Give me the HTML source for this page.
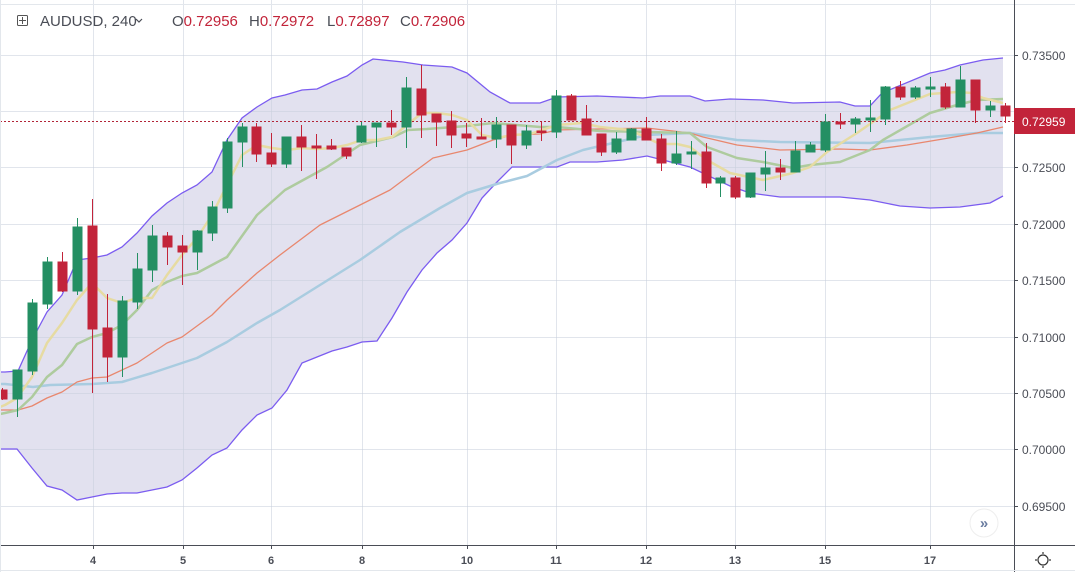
<!DOCTYPE html>
<html><head><meta charset="utf-8"><style>
html,body{margin:0;padding:0;background:#fff;}
body{width:1075px;height:572px;overflow:hidden;font-family:"Liberation Sans",sans-serif;}
svg{display:block}
</style></head><body>
<svg width="1075" height="572" viewBox="0 0 1075 572" xmlns="http://www.w3.org/2000/svg" font-family="Liberation Sans, sans-serif">
<rect x="0" y="0" width="1075" height="572" fill="#fff"/>
<polygon fill="#e2e1ef" points="5,372 18,371 32,340 47,312 62,295 77,260 92,258 107,255 122,247 137,233 152,216 167,203 182,193 197,185 212,172 227,140 242,118 257,107 272,98 285,95 302,90 317,89 332,82 347,76 362,65 373,59 403,62 423,65 452,67 467,73 490,92 510,103 540,103 557,97 597,96 643,98 660,96 690,96 705,101 730,99 763,100 793,103 840,102 855,106 870,106 882,93 930,73 945,70 960,65 983,60 1003,58 1003,196 990,203 960,207 930,208 900,206 870,200 840,197 810,197 780,197 750,193 730,186 690,167 663,160 647,156 623,160 597,162 570,162 557,167 530,167 527,167 512,167 497,182 482,198 467,223 452,240 437,253 422,270 407,292 392,318 377,341 362,342 347,347 332,351 317,357 302,363 287,390 272,408 257,415 242,430 227,448 212,455 197,468 182,480 167,487 152,490 137,493 122,493 107,494 92,497 77,500 62,490 47,486 32,468 17,449 5,449 0,449 0,372"/>
<g stroke="#c9d0dc" stroke-opacity="0.55" stroke-width="1">
<line x1="0" y1="55.5" x2="1014" y2="55.5"/><line x1="0" y1="111.5" x2="1014" y2="111.5"/><line x1="0" y1="167.5" x2="1014" y2="167.5"/><line x1="0" y1="224.5" x2="1014" y2="224.5"/><line x1="0" y1="280.5" x2="1014" y2="280.5"/><line x1="0" y1="337.5" x2="1014" y2="337.5"/><line x1="0" y1="393.5" x2="1014" y2="393.5"/><line x1="0" y1="449.5" x2="1014" y2="449.5"/><line x1="0" y1="506.5" x2="1014" y2="506.5"/>
<line x1="93.5" y1="0" x2="93.5" y2="545"/><line x1="183.5" y1="0" x2="183.5" y2="545"/><line x1="271.5" y1="0" x2="271.5" y2="545"/><line x1="362.5" y1="0" x2="362.5" y2="545"/><line x1="467.5" y1="0" x2="467.5" y2="545"/><line x1="556.5" y1="0" x2="556.5" y2="545"/><line x1="646.5" y1="0" x2="646.5" y2="545"/><line x1="735.5" y1="0" x2="735.5" y2="545"/><line x1="825.5" y1="0" x2="825.5" y2="545"/><line x1="930.5" y1="0" x2="930.5" y2="545"/>
</g>
<g fill="none" stroke-width="1.3" stroke="#7b5cf0">
<polyline points="0,372 5,372 18,371 32,340 47,312 62,295 77,260 92,258 107,255 122,247 137,233 152,216 167,203 182,193 197,185 212,172 227,140 242,118 257,107 272,98 285,95 302,90 317,89 332,82 347,76 362,65 373,59 403,62 423,65 452,67 467,73 490,92 510,103 540,103 557,97 597,96 643,98 660,96 690,96 705,101 730,99 763,100 793,103 840,102 855,106 870,106 882,93 930,73 945,70 960,65 983,60 1003,58"/>
<polyline points="0,449 17,449 32,468 47,486 62,490 77,500 92,497 107,494 122,493 137,493 152,490 167,487 182,480 197,468 212,455 227,448 242,430 257,415 272,408 287,390 302,363 317,357 332,351 347,347 362,342 377,341 392,318 407,292 422,270 437,253 452,240 467,223 482,198 497,182 512,167 557,167 570,162 597,162 623,160 647,156 663,160 690,167 730,186 750,193 780,197 840,197 870,200 900,206 930,208 960,207 990,203 1003,196"/>
</g>
<g fill="none" stroke-linejoin="round">
<polyline stroke="#a9cce0" stroke-width="2.5" points="0,384 5,384 33,387 50,385 92,384 122,382 152,373 182,363 197,358 227,342 257,323 280,310 320,285 360,260 400,232 440,208 467,193 500,183 527,176 557,160 583,150 613,143 647,135 690,133 737,140 780,142 870,143 930,137 977,133 1003,133"/>
<polyline stroke="#e8876e" stroke-width="1.3" points="0,410 18,410 32,406 47,398 62,392 77,382 92,378 107,377 137,363 167,343 182,337 212,315 227,300 257,273 280,255 320,225 360,205 390,190 410,175 433,158 467,150 493,140 513,135 540,134 557,130 597,129 647,128 690,133 703,137 737,145 780,150 840,149 870,150 907,145 943,139 977,133 1003,127"/>
<polyline stroke="#aecb9e" stroke-width="2.5" points="0,414 5,413 18,410 32,397 47,377 62,365 77,344 92,337 107,333 122,325 137,310 152,290 167,282 182,276 197,273 212,265 227,257 257,215 285,190 327,167 360,145 393,137 408,130 427,129 467,126 493,123 540,127 557,127 600,131 647,132 690,133 707,147 737,158 763,162 793,168 810,165 840,162 870,150 883,140 930,113 957,105 977,100 1003,99"/>
<polyline stroke="#e6dba2" stroke-width="2.5" points="0,407 5,405 17,398 32,377 47,343 62,323 77,300 92,283 107,298 122,303 137,298 152,298 167,275 182,255 197,238 212,215 227,185 242,155 257,145 272,148 287,150 302,148 317,149 332,148 347,145 362,140 377,140 392,137 407,125 422,113 437,113 452,115 467,120 482,135 497,138 512,135 530,134 557,125 582,123 600,127 630,130 660,144 677,144 690,147 707,160 730,173 763,180 793,173 810,167 827,152 857,133 890,110 930,94 957,92 972,93 983,98 1003,103"/>
</g>
<line x1="0" y1="121.5" x2="1014" y2="121.5" stroke="#b22437" stroke-width="1" stroke-dasharray="2,2"/>
<g>
<g stroke="#c2243a" fill="#c2243a">
<line x1="2.5" y1="388" x2="2.5" y2="400"/><rect x="0" y="390" width="7" height="9"/>
<line x1="62.5" y1="252" x2="62.5" y2="292"/><rect x="58" y="262" width="9" height="29"/>
<line x1="92.5" y1="199" x2="92.5" y2="393"/><rect x="88" y="226" width="9" height="103"/>
<line x1="107.5" y1="294" x2="107.5" y2="382"/><rect x="103" y="328" width="9" height="29"/>
<line x1="167.5" y1="232" x2="167.5" y2="265"/><rect x="163" y="236" width="9" height="11"/>
<line x1="182.5" y1="235" x2="182.5" y2="285"/><rect x="178" y="246" width="9" height="6"/>
<line x1="256.5" y1="123" x2="256.5" y2="162"/><rect x="252" y="127" width="9" height="27"/>
<line x1="271.5" y1="133" x2="271.5" y2="167"/><rect x="267" y="153" width="9" height="11"/>
<line x1="301.5" y1="125" x2="301.5" y2="171"/><rect x="297" y="137" width="9" height="10"/>
<line x1="316.5" y1="134" x2="316.5" y2="179"/><rect x="312" y="146" width="9" height="2"/>
<line x1="331.5" y1="139" x2="331.5" y2="150"/><rect x="327" y="146" width="9" height="3"/>
<line x1="346.5" y1="148" x2="346.5" y2="159"/><rect x="342" y="148" width="9" height="8"/>
<line x1="391.5" y1="110" x2="391.5" y2="135"/><rect x="387" y="123" width="9" height="4"/>
<line x1="421.5" y1="65" x2="421.5" y2="138"/><rect x="417" y="89" width="9" height="26"/>
<line x1="436.5" y1="114" x2="436.5" y2="146"/><rect x="432" y="114" width="9" height="8"/>
<line x1="451.5" y1="111" x2="451.5" y2="148"/><rect x="447" y="121" width="9" height="14"/>
<line x1="466.5" y1="123" x2="466.5" y2="147"/><rect x="462" y="134" width="9" height="4"/>
<line x1="481.5" y1="118" x2="481.5" y2="139"/><rect x="477" y="137" width="9" height="2"/>
<line x1="511.5" y1="125" x2="511.5" y2="164"/><rect x="507" y="125" width="9" height="20"/>
<line x1="541.5" y1="122" x2="541.5" y2="141"/><rect x="537" y="131" width="9" height="1.5"/>
<line x1="571.5" y1="94" x2="571.5" y2="120"/><rect x="567" y="96" width="9" height="24"/>
<line x1="586.5" y1="105" x2="586.5" y2="135"/><rect x="582" y="119" width="9" height="16"/>
<line x1="601.5" y1="134" x2="601.5" y2="156"/><rect x="597" y="134" width="9" height="18"/>
<line x1="646.5" y1="117" x2="646.5" y2="140"/><rect x="642" y="129" width="9" height="11"/>
<line x1="661.5" y1="134" x2="661.5" y2="171"/><rect x="657" y="139" width="9" height="24"/>
<line x1="706.5" y1="143" x2="706.5" y2="188"/><rect x="702" y="152" width="9" height="31"/>
<line x1="735.5" y1="176" x2="735.5" y2="199"/><rect x="731" y="178" width="9" height="19"/>
<line x1="780.5" y1="159" x2="780.5" y2="180"/><rect x="776" y="168" width="9" height="4"/>
<line x1="840.5" y1="113" x2="840.5" y2="129"/><rect x="836" y="122" width="9" height="2"/>
<line x1="900.5" y1="81" x2="900.5" y2="100"/><rect x="896" y="87" width="9" height="10"/>
<line x1="945.5" y1="83" x2="945.5" y2="109"/><rect x="941" y="87" width="9" height="20"/>
<line x1="975.5" y1="80" x2="975.5" y2="123"/><rect x="971" y="80" width="9" height="30"/>
<line x1="1005.5" y1="103" x2="1005.5" y2="123"/><rect x="1001" y="106" width="9" height="10"/>
</g>
<g stroke="#248f63" fill="#248f63">
<line x1="17.5" y1="370" x2="17.5" y2="417"/><rect x="13" y="370" width="9" height="29"/>
<line x1="32.5" y1="299" x2="32.5" y2="375"/><rect x="28" y="303" width="9" height="68"/>
<line x1="47.5" y1="257" x2="47.5" y2="309"/><rect x="43" y="262" width="9" height="42"/>
<line x1="77.5" y1="218" x2="77.5" y2="295"/><rect x="73" y="227" width="9" height="64"/>
<line x1="122.5" y1="296" x2="122.5" y2="377"/><rect x="118" y="301" width="9" height="56"/>
<line x1="137.5" y1="253" x2="137.5" y2="309"/><rect x="133" y="269" width="9" height="33"/>
<line x1="152.5" y1="225" x2="152.5" y2="282"/><rect x="148" y="236" width="9" height="34"/>
<line x1="197.5" y1="230" x2="197.5" y2="270"/><rect x="193" y="231" width="9" height="21"/>
<line x1="212.5" y1="201" x2="212.5" y2="241"/><rect x="208" y="207" width="9" height="26"/>
<line x1="227.5" y1="138" x2="227.5" y2="213"/><rect x="223" y="142" width="9" height="66"/>
<line x1="242.5" y1="123" x2="242.5" y2="167"/><rect x="238" y="127" width="9" height="15"/>
<line x1="286.5" y1="137" x2="286.5" y2="168"/><rect x="282" y="137" width="9" height="27"/>
<line x1="361.5" y1="122" x2="361.5" y2="143"/><rect x="357" y="126" width="9" height="16"/>
<line x1="376.5" y1="123" x2="376.5" y2="147"/><rect x="372" y="123" width="9" height="4"/>
<line x1="406.5" y1="77" x2="406.5" y2="148"/><rect x="402" y="88" width="9" height="39"/>
<line x1="496.5" y1="117" x2="496.5" y2="148"/><rect x="492" y="125" width="9" height="14"/>
<line x1="526.5" y1="125" x2="526.5" y2="149"/><rect x="522" y="131" width="9" height="14"/>
<line x1="556.5" y1="90" x2="556.5" y2="138"/><rect x="552" y="96" width="9" height="36"/>
<line x1="616.5" y1="132" x2="616.5" y2="154"/><rect x="612" y="139" width="9" height="13"/>
<line x1="631.5" y1="128" x2="631.5" y2="140"/><rect x="627" y="129" width="9" height="11"/>
<line x1="676.5" y1="131" x2="676.5" y2="165"/><rect x="672" y="154" width="9" height="9"/>
<line x1="691.5" y1="141" x2="691.5" y2="169"/><rect x="687" y="152" width="9" height="2"/>
<line x1="720.5" y1="176" x2="720.5" y2="197"/><rect x="716" y="178" width="9" height="5"/>
<line x1="750.5" y1="173" x2="750.5" y2="198"/><rect x="746" y="173" width="9" height="24"/>
<line x1="765.5" y1="151" x2="765.5" y2="191"/><rect x="761" y="168" width="9" height="6"/>
<line x1="795.5" y1="141" x2="795.5" y2="172"/><rect x="791" y="151" width="9" height="21"/>
<line x1="810.5" y1="142" x2="810.5" y2="152"/><rect x="806" y="145" width="9" height="7"/>
<line x1="825.5" y1="114" x2="825.5" y2="152"/><rect x="821" y="122" width="9" height="28"/>
<line x1="855.5" y1="117" x2="855.5" y2="133"/><rect x="851" y="119" width="9" height="5"/>
<line x1="870.5" y1="100" x2="870.5" y2="132"/><rect x="866" y="118" width="9" height="2"/>
<line x1="885.5" y1="86" x2="885.5" y2="125"/><rect x="881" y="87" width="9" height="32"/>
<line x1="915.5" y1="86" x2="915.5" y2="99"/><rect x="911" y="88" width="9" height="9"/>
<line x1="930.5" y1="77" x2="930.5" y2="97"/><rect x="926" y="87" width="9" height="2"/>
<line x1="960.5" y1="66" x2="960.5" y2="107"/><rect x="956" y="80" width="9" height="27"/>
<line x1="990.5" y1="101" x2="990.5" y2="117"/><rect x="986" y="106" width="9" height="4"/>
</g>
</g>
<rect x="1014" y="0" width="61" height="572" fill="#fff"/>
<line x1="0" y1="4.5" x2="1075" y2="4.5" stroke="#e3e7ec"/>
<line x1="1014.5" y1="0" x2="1014.5" y2="572" stroke="#4a4d56"/>
<line x1="0" y1="545.5" x2="1075" y2="545.5" stroke="#4a4d56"/>
<line x1="0" y1="570.5" x2="1075" y2="570.5" stroke="#e3e7ec"/>
<line x1="0.5" y1="0" x2="0.5" y2="572" stroke="#e3e7ec"/>
<g stroke="#4a4d56">
<line x1="1014" y1="55.5" x2="1018" y2="55.5"/><line x1="1014" y1="167.5" x2="1018" y2="167.5"/><line x1="1014" y1="224.5" x2="1018" y2="224.5"/><line x1="1014" y1="280.5" x2="1018" y2="280.5"/><line x1="1014" y1="337.5" x2="1018" y2="337.5"/><line x1="1014" y1="393.5" x2="1018" y2="393.5"/><line x1="1014" y1="449.5" x2="1018" y2="449.5"/><line x1="1014" y1="506.5" x2="1018" y2="506.5"/>
<line x1="93.5" y1="545" x2="93.5" y2="549"/><line x1="183.5" y1="545" x2="183.5" y2="549"/><line x1="271.5" y1="545" x2="271.5" y2="549"/><line x1="362.5" y1="545" x2="362.5" y2="549"/><line x1="467.5" y1="545" x2="467.5" y2="549"/><line x1="556.5" y1="545" x2="556.5" y2="549"/><line x1="646.5" y1="545" x2="646.5" y2="549"/><line x1="735.5" y1="545" x2="735.5" y2="549"/><line x1="825.5" y1="545" x2="825.5" y2="549"/><line x1="930.5" y1="545" x2="930.5" y2="549"/>
</g>
<g fill="#4a4d56" font-size="12">
<text x="1022" y="60">0.73500</text><text x="1022" y="172">0.72500</text><text x="1022" y="229">0.72000</text><text x="1022" y="285">0.71500</text><text x="1022" y="342">0.71000</text><text x="1022" y="398">0.70500</text><text x="1022" y="454">0.70000</text><text x="1022" y="511">0.69500</text>
</g>
<rect x="1014" y="108" width="61" height="26" fill="#c2243a"/>
<text x="1022" y="126" fill="#fff" font-size="12">0.72959</text>
<g fill="#4a4d56" font-size="11" font-weight="bold" text-anchor="middle">
<text x="93" y="564">4</text><text x="183" y="564">5</text><text x="271" y="564">6</text><text x="362" y="564">8</text><text x="467" y="564">10</text><text x="556" y="564">11</text><text x="646" y="564">12</text><text x="735" y="564">13</text><text x="825" y="564">15</text><text x="930" y="564">17</text>
</g>
<g stroke="#333" fill="none" stroke-width="1.2">
<circle cx="1043" cy="560" r="5"/>
<line x1="1043" y1="552" x2="1043" y2="554"/><line x1="1043" y1="566" x2="1043" y2="568"/><line x1="1035" y1="560" x2="1037" y2="560"/><line x1="1049" y1="560" x2="1051" y2="560"/>
</g>
<circle cx="984" cy="523" r="14" fill="#fff" stroke="#eee"/>
<text x="984" y="528" fill="#6a7ca0" font-size="15" font-weight="bold" text-anchor="middle">»</text>
<rect x="17.5" y="15.5" width="10" height="10" fill="none" stroke="#555" rx="1"/>
<line x1="22.5" y1="17" x2="22.5" y2="24" stroke="#555"/><line x1="19" y1="20.5" x2="26" y2="20.5" stroke="#555"/>
<text x="40" y="26" font-size="15" fill="#4a4d56">AUDUSD, 240</text>
<polyline points="136,19 139,22 142,19" fill="none" stroke="#4a4d56" stroke-width="1.2"/>
<text x="172" y="26" font-size="15" fill="#4a4d56">O<tspan fill="#c2243a">0.72956</tspan></text>
<text x="249" y="26" font-size="15" fill="#4a4d56">H<tspan fill="#c2243a">0.72972</tspan></text>
<text x="327" y="26" font-size="15" fill="#4a4d56">L<tspan fill="#c2243a">0.72897</tspan></text>
<text x="400" y="26" font-size="15" fill="#4a4d56">C<tspan fill="#c2243a">0.72906</tspan></text>
</svg>
</body></html>
